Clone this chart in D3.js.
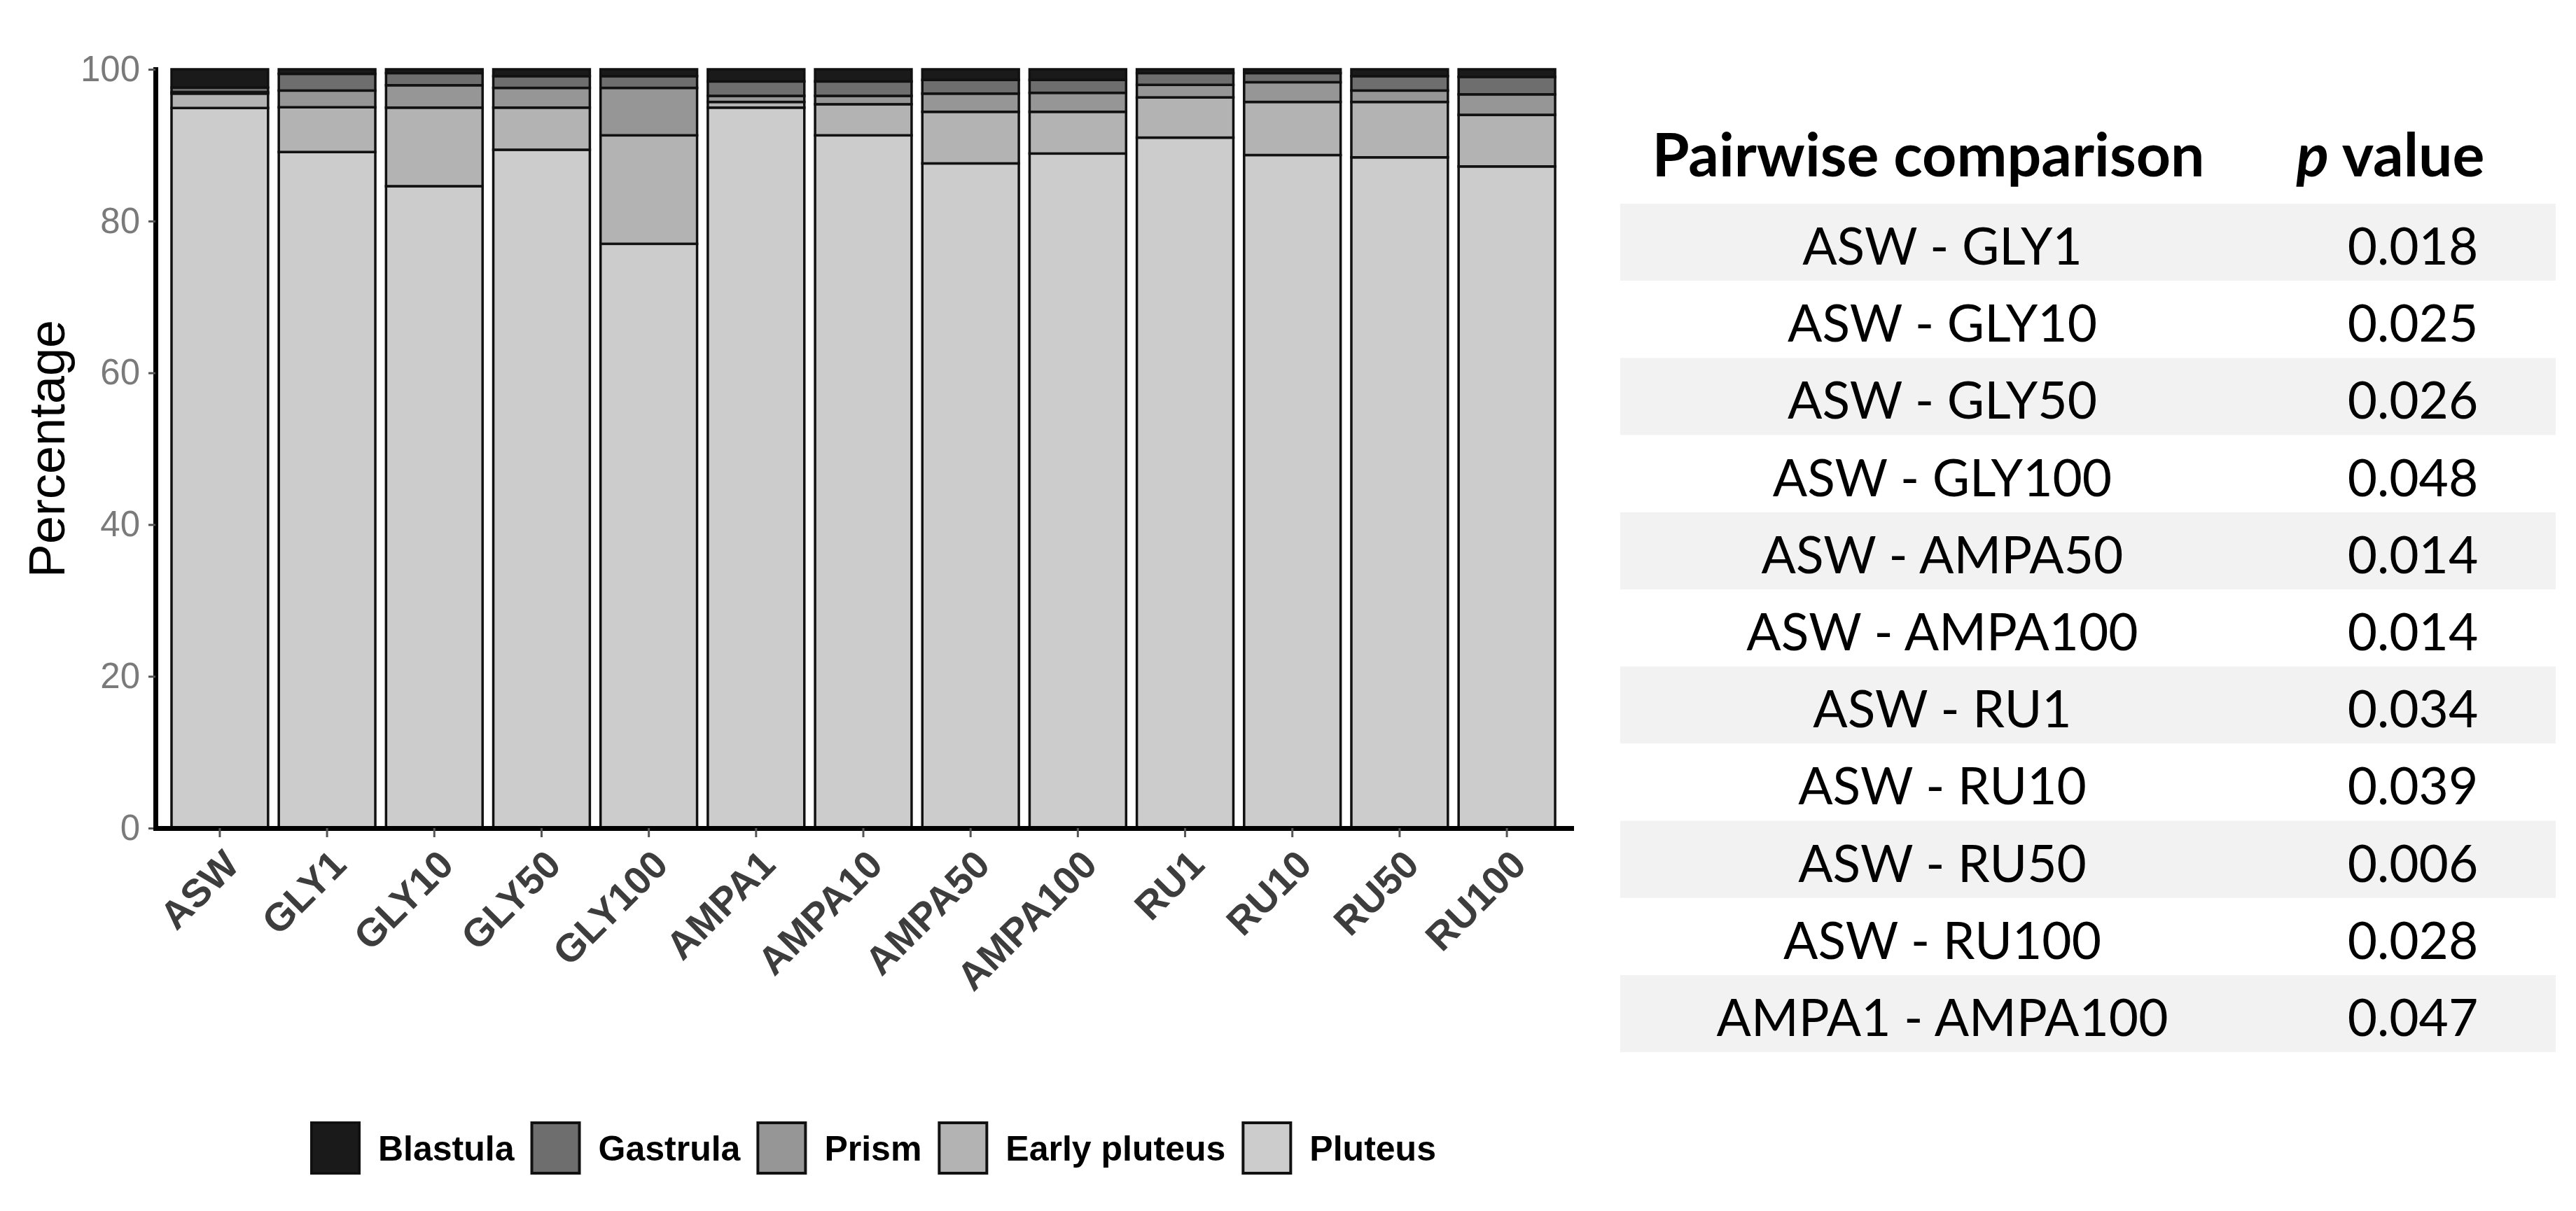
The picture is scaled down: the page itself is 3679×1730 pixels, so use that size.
<!DOCTYPE html>
<html>
<meta charset="utf-8">
<head>
<script src="https://cdn.jsdelivr.net/npm/d3@7"></script>
<style>
  body { margin: 0; background: #fff; }
  svg { display: block; }
</style>
</head>
<body>
<div id="center"></div>
<script>
// treatments along the x axis
var categories = ["ASW", "GLY1", "GLY10", "GLY50", "GLY100", "AMPA1", "AMPA10",
                  "AMPA50", "AMPA100", "RU1", "RU10", "RU50", "RU100"];

// percentages per developmental stage
var blastula     = [2.4, 0.6, 0.5, 0.9, 0.9, 1.6, 1.6, 1.4, 1.4, 0.5, 0.5, 0.9, 1.0];
var gastrula     = [0.6, 2.2, 1.6, 1.55, 1.55, 1.9, 1.9, 1.8, 1.7, 1.55, 1.2, 1.9, 2.3];
var prism        = [0.2, 2.2, 2.95, 2.6, 6.25, 0.8, 1.1, 2.4, 2.5, 1.65, 2.6, 1.5, 2.7];
var earlyPluteus = [1.9, 5.9, 10.35, 5.55, 14.3, 0.75, 4.1, 6.8, 5.5, 5.3, 7.0, 7.3, 6.8];
var pluteus      = [94.9, 89.1, 84.6, 89.4, 77.0, 94.95, 91.3, 87.6, 88.9, 91.0, 88.7, 88.4, 87.2];

var legendOrder = ["Blastula", "Gastrula", "Prism", "Early pluteus", "Pluteus"];
var yTicks = [0, 20, 40, 60, 80, 100];

// pairwise comparison table
var comparisons = ["ASW - GLY1", "ASW - GLY10", "ASW - GLY50", "ASW - GLY100",
                   "ASW - AMPA50", "ASW - AMPA100", "ASW - RU1", "ASW - RU10",
                   "ASW - RU50", "ASW - RU100", "AMPA1 - AMPA100"];
var pValues = ["0.018", "0.025", "0.026", "0.048", "0.014", "0.014",
               "0.034", "0.039", "0.006", "0.028", "0.047"];

var W = 3679, H = 1730;

var svg = d3.select("#center")
    .append("svg")
    .attr("width", W)
    .attr("height", H);

// table for d3.stack
var rows = categories.map(function(c, i) {
    return {
        cat: c,
        "Blastula": blastula[i],
        "Gastrula": gastrula[i],
        "Prism": prism[i],
        "Early pluteus": earlyPluteus[i],
        "Pluteus": pluteus[i]
    };
});

var stackKeys = ["Pluteus", "Early pluteus", "Prism", "Gastrula", "Blastula"];
var series = d3.stack().keys(stackKeys)(rows);

var color = d3.scaleOrdinal()
    .domain(legendOrder)
    .range(["#1a1a1a", "#6e6e6e", "#969696", "#b3b3b3", "#cccccc"]);

// panel edges (window.top is reserved, so other names)
var pLeft = 222, pRight = 2244, pTop = 99, pBottom = 1183;

var x = d3.scaleBand()
    .domain(categories)
    .range([pLeft, pRight])
    .paddingInner(0.1)
    .paddingOuter(0.15);

var y = d3.scaleLinear()
    .domain([0, 100])
    .range([pBottom, pTop]);

// bars
svg.append("g")
    .selectAll("g")
    .data(series)
    .enter()
    .append("g")
    .attr("fill", function(d) { return color(d.key); })
    .selectAll("rect")
    .data(function(d) { return d; })
    .enter()
    .append("rect")
    .attr("x", function(d) { return x(d.data.cat); })
    .attr("y", function(d) { return y(d[1]); })
    .attr("width", x.bandwidth())
    .attr("height", function(d) { return y(d[0]) - y(d[1]); })
    .attr("stroke", "#111")
    .attr("stroke-width", 3.5);

// y axis
var yAxis = svg.append("g")
    .attr("transform", "translate(" + pLeft + ",0)")
    .call(d3.axisLeft(y).tickValues(yTicks).tickSize(10).tickPadding(12).tickSizeOuter(0));

yAxis.select(".domain")
    .attr("stroke", "#000")
    .attr("stroke-width", 7)
    .attr("stroke-linecap", "square");
yAxis.selectAll(".tick line").attr("stroke", "#555").attr("stroke-width", 3);
yAxis.selectAll(".tick text")
    .attr("font-family", "Liberation Sans, Arial, sans-serif")
    .attr("font-size", 51)
    .attr("fill", "#7a7a7a");

// x axis
var xAxis = svg.append("g")
    .attr("transform", "translate(0," + pBottom + ")")
    .call(d3.axisBottom(x).tickSize(13).tickSizeOuter(0));

xAxis.select(".domain")
    .attr("stroke", "#000")
    .attr("stroke-width", 7)
    .attr("stroke-linecap", "square");
xAxis.selectAll(".tick line").attr("stroke", "#555").attr("stroke-width", 3);
xAxis.selectAll(".tick text")
    .attr("font-family", "Liberation Sans, Arial, sans-serif")
    .attr("font-weight", "bold")
    .attr("font-size", 56)
    .attr("fill", "#3d3d3d")
    .attr("x", 0)
    .attr("y", 0)
    .attr("dy", "0.72em")
    .attr("text-anchor", "end")
    .attr("transform", "translate(2,27) rotate(-45)");

// y axis title
svg.append("text")
    .attr("transform", "translate(92," + ((pTop + pBottom) / 2) + ") rotate(-90)")
    .attr("text-anchor", "middle")
    .attr("font-family", "Liberation Sans, Arial, sans-serif")
    .attr("font-size", 72)
    .attr("fill", "#000")
    .text("Percentage");

// legend
var legend = svg.append("g");
var lx = 445;
legendOrder.forEach(function(k) {
    legend.append("rect")
        .attr("x", lx)
        .attr("y", 1604)
        .attr("width", 68)
        .attr("height", 72)
        .attr("fill", color(k))
        .attr("stroke", "#111")
        .attr("stroke-width", 4);
    var t = legend.append("text")
        .attr("x", lx + 68 + 27)
        .attr("y", 1658)
        .attr("font-family", "Liberation Sans, Arial, sans-serif")
        .attr("font-weight", "bold")
        .attr("font-size", 50)
        .attr("fill", "#000")
        .text(k);
    lx = lx + 68 + 27 + t.node().getComputedTextLength() + 25;
});

// table
var tbl = svg.append("g");
var rowTop = 291, rowH = 110.2, bandL = 2314, bandR = 3650;
var col1 = 2774, col2 = 3446;

tbl.selectAll("rect.band")
    .data(comparisons)
    .enter()
    .append("rect")
    .attr("class", "band")
    .attr("x", bandL)
    .attr("y", function(d, i) { return rowTop + i * rowH; })
    .attr("width", bandR - bandL)
    .attr("height", rowH)
    .attr("fill", function(d, i) { return i % 2 == 0 ? "#f2f2f2" : "#ffffff"; });

tbl.selectAll("text.cmp")
    .data(comparisons)
    .enter()
    .append("text")
    .attr("class", "cmp")
    .attr("x", col1)
    .attr("y", function(d, i) { return rowTop + i * rowH + 87; })
    .attr("text-anchor", "middle")
    .attr("font-family", "Lato, sans-serif")
    .attr("font-size", 73)
    .attr("fill", "#000")
    .text(function(d) { return d; });

tbl.selectAll("text.pv")
    .data(pValues)
    .enter()
    .append("text")
    .attr("class", "pv")
    .attr("x", col2)
    .attr("y", function(d, i) { return rowTop + i * rowH + 87; })
    .attr("text-anchor", "middle")
    .attr("font-family", "Lato, sans-serif")
    .attr("font-size", 73)
    .attr("fill", "#000")
    .text(function(d) { return d; });

// header
tbl.append("text")
    .attr("x", 2754)
    .attr("y", 252)
    .attr("text-anchor", "middle")
    .attr("font-family", "Lato, sans-serif")
    .attr("font-weight", "bold")
    .attr("font-size", 86)
    .attr("fill", "#000")
    .text("Pairwise comparison");

var ph = tbl.append("text")
    .attr("x", 3414)
    .attr("y", 252)
    .attr("text-anchor", "middle")
    .attr("font-family", "Lato, sans-serif")
    .attr("font-weight", "bold")
    .attr("font-size", 86)
    .attr("fill", "#000");
ph.append("tspan").attr("font-style", "italic").text("p");
ph.append("tspan").text(" value");
</script>
</body>
</html>
